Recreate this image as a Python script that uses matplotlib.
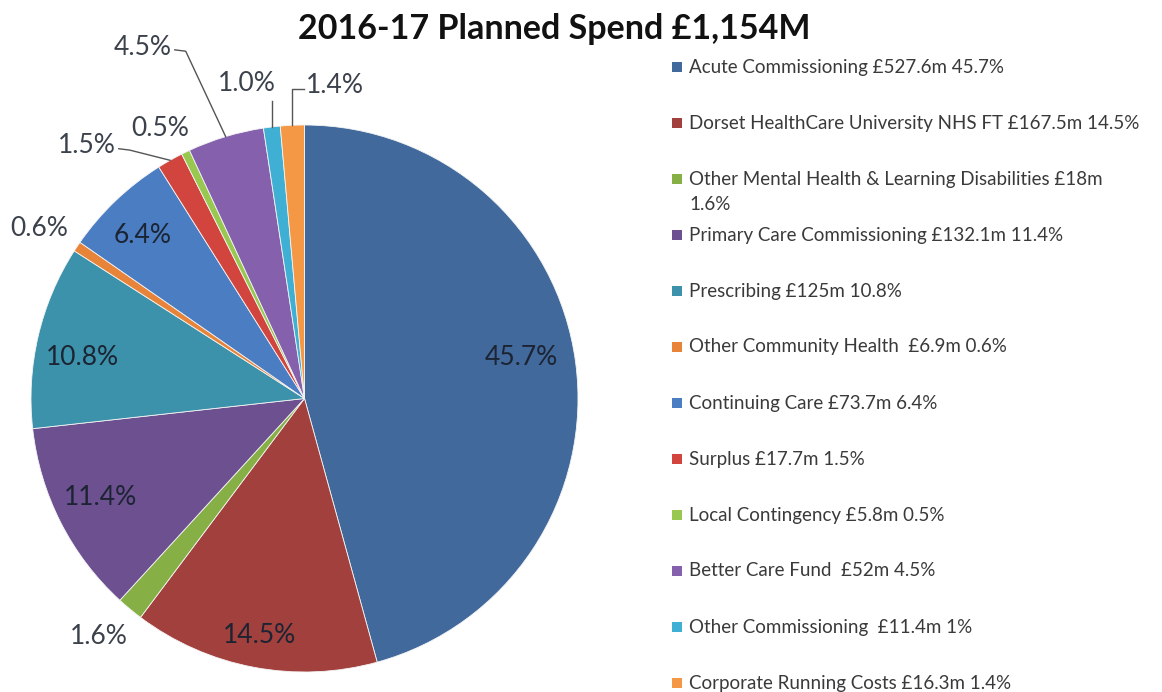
import numpy as np
import matplotlib
matplotlib.use("Agg")
import matplotlib.pyplot as plt
from matplotlib.patches import Rectangle

# 2016-17 planned spend by area (£m), clockwise from 12 o'clock
categories = ["Acute Commissioning", "Dorset HealthCare University NHS FT",
              "Other Mental Health & Learning Disabilities", "Primary Care Commissioning",
              "Prescribing", "Other Community Health", "Continuing Care", "Surplus",
              "Local Contingency", "Better Care Fund", "Other Commissioning",
              "Corporate Running Costs"]
spend = [527.6, 167.5, 18.0, 132.1, 125.0, 6.9, 73.7, 17.7, 5.8, 52.0, 11.4, 16.3]
legend_labels = ["Acute Commissioning £527.6m 45.7%",
                 "Dorset HealthCare University NHS FT £167.5m 14.5%",
                 "Other Mental Health & Learning Disabilities £18m\n1.6%",
                 "Primary Care Commissioning £132.1m 11.4%",
                 "Prescribing £125m 10.8%",
                 "Other Community Health  £6.9m 0.6%",
                 "Continuing Care £73.7m 6.4%",
                 "Surplus £17.7m 1.5%",
                 "Local Contingency £5.8m 0.5%",
                 "Better Care Fund  £52m 4.5%",
                 "Other Commissioning  £11.4m 1%",
                 "Corporate Running Costs £16.3m 1.4%"]
title = "2016-17 Planned Spend £1,154M"

colors = ["#41699b", "#a1403c", "#86b046", "#6d5090", "#3c92aa", "#e8843a",
          "#4a7dc2", "#d2443e", "#98c850", "#8560ad", "#3fb0d4", "#f59846"]

# label placement: radius, angle offset from wedge middle, inside?, leader style
label_layout = [
    (0.807, 2.9, True, None),
    (0.88, 0.05, True, None),
    (1.15, -1.3, False, None),
    (0.83, -1.2, True, None),
    (0.826, 2.6, True, None),
    (1.15, 1.1, False, None),
    (0.84, 1.0, True, None),
    (1.152, 7.3, False, "right"),
    (1.12, 2.3, False, None),
    (1.373, 3.9, False, "right"),
    (1.172, 3.5, False, "up"),
    (1.143, -2.75, False, "left"),
]

plt.rcParams["font.family"] = ["Lato", "DejaVu Sans"]

fig = plt.figure(figsize=(11.62, 6.92), dpi=100)
W, H = 1162, 692
cx, cy, R = 304.5, 398.5, 273.5
ax = fig.add_axes([(cx - R) / W, (H - cy - R) / H, 2 * R / W, 2 * R / H])

wedges, _ = ax.pie(spend, colors=colors, startangle=90, counterclock=False,
                   radius=1.0, wedgeprops=dict(edgecolor="#f4f4f4", linewidth=0.6))
ax.set_xlim(-1, 1)
ax.set_ylim(-1, 1)
ax.set_aspect("equal")
ax.axis("off")

total = sum(spend)
for w, v, (r, dth, inside, leader) in zip(wedges, spend, label_layout):
    mid = np.deg2rad((w.theta1 + w.theta2) / 2)
    ang = mid + np.deg2rad(dth)
    lx, ly = r * np.cos(ang), r * np.sin(ang)
    txt = f"{100 * v / total:.1f}%"
    col = "#1c2433" if inside else "#3c424c"
    ex, ey = np.cos(mid), np.sin(mid)
    ha = "center"
    if leader == "right":
        ha = "right"
        ax.plot([lx + 0.01, lx + 0.05, ex], [ly - 0.01, ly - 0.015, ey],
                color="#555555", lw=1, clip_on=False)
    elif leader == "left":
        ha = "left"
        ax.plot([ex, ex, lx - 0.005], [ey, ly - 0.01, ly - 0.01],
                color="#555555", lw=1, clip_on=False)
    elif leader == "up":
        ax.plot([ex, ex], [ey, ly - 0.065], color="#555555", lw=1, clip_on=False)
    ax.text(lx, ly, txt, ha=ha, va="center", fontsize=19, color=col)

fig.text(554 / W, 1 - 29 / H, title, ha="center", va="center",
         fontsize=24.5, fontweight="bold", color="#111111")

# legend drawn by hand so the wrapped entry keeps the even row spacing
for i, (lab, c) in enumerate(zip(legend_labels, colors)):
    y = 67 + i * 56
    fig.patches.append(Rectangle((672 / W, 1 - (y + 5) / H), 10 / W, 10 / H,
                                 transform=fig.transFigure, facecolor=c, edgecolor="none"))
    for j, line in enumerate(lab.split("\n")):
        fig.text(689 / W, 1 - (y + 26 * j) / H, line, ha="left", va="center",
                 fontsize=13.5, color="#3a3a3a")

fig.savefig("out.png", dpi=100, facecolor="white")
